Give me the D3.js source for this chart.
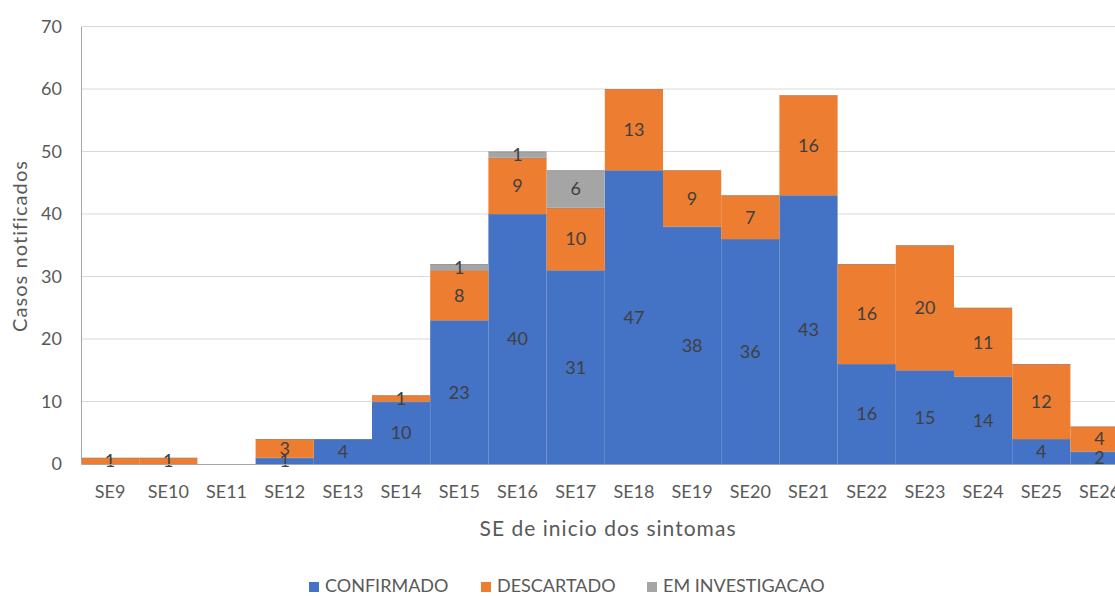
<!DOCTYPE html>
<html><head><meta charset="utf-8">
<script src="https://cdn.jsdelivr.net/npm/d3@7"></script>
<style>body{margin:0;background:#fff}svg{display:block}text{font-family:Lato,"Open Sans",sans-serif}</style>
</head><body>
<svg id="c" width="1115" height="596"></svg>
<script>
const categories = ["SE9","SE10","SE11","SE12","SE13","SE14","SE15","SE16","SE17","SE18","SE19","SE20","SE21","SE22","SE23","SE24","SE25","SE26"];
const confirmado = [0,0,0,1,4,10,23,40,31,47,38,36,43,16,15,14,4,2];
const descartado = [1,1,0,3,0,1,8,9,10,13,9,7,16,16,20,11,12,4];
const investigacao = [0,0,0,0,0,0,1,1,6,0,0,0,0,0,0,0,0,0];
const seriesNames = ["CONFIRMADO","DESCARTADO","EM INVESTIGACAO"];
const yTicks = [0,10,20,30,40,50,60,70];
const colors = ["#4472C4","#ED7D31","#A5A5A5"];

const svg = d3.select("#c");
const mLeft = 81, mTop = 26.5, mBottom = 464, step = 58.2;
const x = d3.scaleBand().domain(categories).range([mLeft, mLeft + step*categories.length]).padding(0);
const y = d3.scaleLinear().domain([0,70]).range([mBottom, mTop]);

const rows = categories.map((c,i)=>({cat:c, CONFIRMADO:confirmado[i], DESCARTADO:descartado[i], "EM INVESTIGACAO":investigacao[i]}));
const stacked = d3.stack().keys(seriesNames)(rows);

// gridlines
svg.append("g").selectAll("line").data(yTicks.filter(d=>d>0)).join("line")
  .attr("x1", mLeft).attr("x2", 1115).attr("y1", d=>y(d)).attr("y2", d=>y(d))
  .attr("stroke", "#d9d9d9").attr("stroke-width", 1);

// bars
stacked.forEach((s, si) => {
  svg.append("g").selectAll("rect").data(s).join("rect")
    .attr("x", d=>x(d.data.cat)).attr("width", x.bandwidth())
    .attr("y", d=>y(d[1])).attr("height", d=>y(d[0])-y(d[1]))
    .attr("fill", colors[si]);
  svg.append("g").selectAll("line").data(s.filter(d=>d[1]>d[0])).join("line")
    .attr("x1", d=>x(d.data.cat)).attr("x2", d=>x(d.data.cat)+x.bandwidth())
    .attr("y1", d=>y(d[1])+0.5).attr("y2", d=>y(d[1])+0.5)
    .attr("stroke", "#8c8c8c").attr("stroke-opacity", 0.5).attr("stroke-width", 1);
});

// labels
stacked.forEach((s) => {
  svg.append("g").selectAll("text").data(s.filter(d=>d[1]>d[0])).join("text")
    .attr("x", d=>x(d.data.cat)+x.bandwidth()/2)
    .attr("y", d=>(y(d[0])+y(d[1]))/2)
    .attr("dy","0.36em").attr("text-anchor","middle")
    .attr("font-size", 18).attr("fill", "#404040")
    .text(d=>d[1]-d[0]);
});

// axes
const yAxis = d3.axisLeft(y).tickValues(yTicks).tickSize(0).tickPadding(19);
const gy = svg.append("g").attr("transform", `translate(${mLeft},0)`).call(yAxis);
gy.select(".domain").attr("stroke", "#a6a6a6");
gy.selectAll("text").attr("font-size", 18).attr("fill", "#595959").attr("font-family","Lato,'Open Sans',sans-serif");

const xAxis = d3.axisBottom(x).tickSize(0).tickPadding(21);
const gx = svg.append("g").attr("transform", `translate(0,${mBottom})`).call(xAxis);
gx.select(".domain").attr("stroke", "#a6a6a6");
gx.selectAll("text").attr("font-size", 18).attr("fill", "#595959").attr("font-family","Lato,'Open Sans',sans-serif");

function fitWidth(sel, target) {
  const node = sel.node();
  const w = node.getComputedTextLength();
  const n = node.textContent.length;
  sel.attr("letter-spacing", ((target - w) / n).toFixed(2));
}

// axis titles
const yt = svg.append("text").attr("transform", `translate(27,246) rotate(-90)`)
  .attr("text-anchor","middle").attr("font-size", 20).attr("fill","#595959").text("Casos notificados");
fitWidth(yt, 172);
const xt = svg.append("text").attr("x", 608).attr("y", 536).attr("text-anchor","middle")
  .attr("font-size", 21).attr("fill","#595959").text("SE de inicio dos sintomas");
fitWidth(xt, 257);

// legend
const legX = [325, 497, 663];
const lg = svg.append("g");
seriesNames.forEach((n,i)=>{
  lg.append("rect").attr("x", legX[i]-16).attr("y", 582).attr("width", 10).attr("height", 10).attr("fill", colors[i]);
  lg.append("text").attr("x", legX[i]).attr("y", 592).attr("font-size", 18).attr("fill","#595959").text(n);
});
</script>
</body></html>
